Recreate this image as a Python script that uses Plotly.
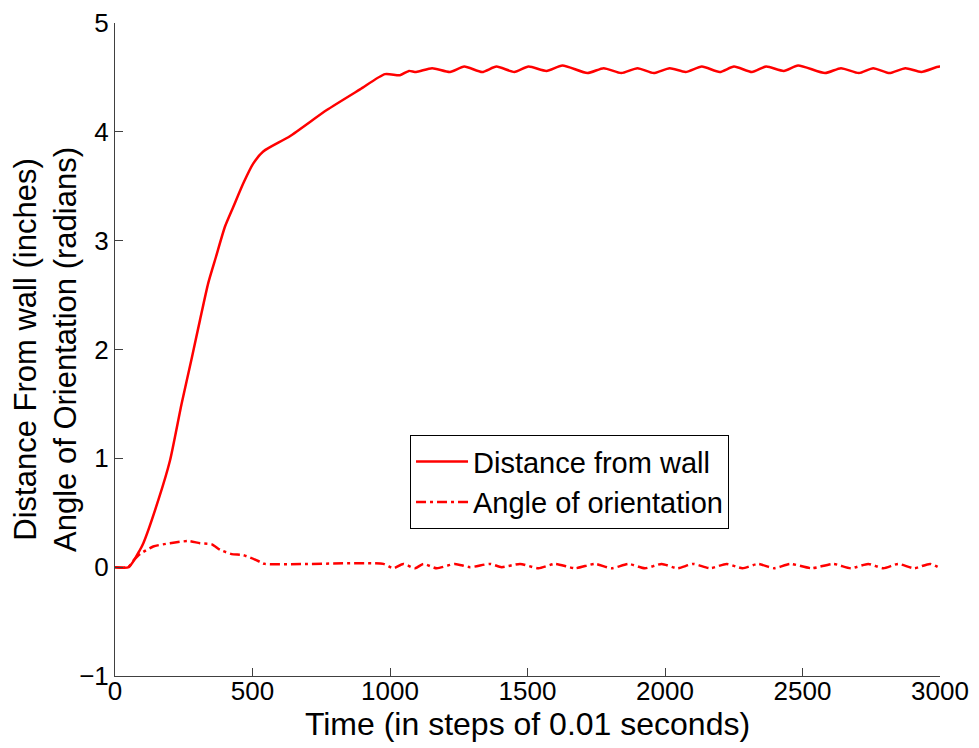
import plotly.graph_objects as go

# Distance from wall (inches)
dist_t = [0, 50, 91, 103, 158, 200, 242, 279, 309, 339, 367, 400, 430, 467, 503, 539,
          636, 770, 891, 982, 1036, 1069, 1095, 1153, 1218, 1270, 1335, 1387, 1452, 1504,
          1569, 1627, 1718, 1777, 1841, 1900, 1959, 2017, 2075, 2134, 2199, 2251, 2316,
          2368, 2432, 2484, 2582, 2640, 2705, 2757, 2816, 2874, 2932, 2997, 3000]
dist_v = [0, 0, 0.16, 0.22, 0.62, 0.98, 1.50, 1.92, 2.27, 2.61, 2.85, 3.13, 3.31, 3.53, 3.71, 3.82,
          3.96, 4.20, 4.39, 4.53, 4.52, 4.56, 4.55, 4.585, 4.55, 4.60, 4.55, 4.60, 4.55, 4.60,
          4.56, 4.61, 4.54, 4.585, 4.54, 4.585, 4.54, 4.585, 4.55, 4.60, 4.55, 4.60, 4.55,
          4.60, 4.56, 4.61, 4.54, 4.585, 4.54, 4.585, 4.54, 4.585, 4.55, 4.60, 4.59]

# Angle of orientation (radians)
ang_t = [0, 48, 67, 91, 139, 200, 267, 309, 352, 382, 424, 467, 527, 545, 976, 1012, 1048,
         1091, 1121, 1170, 1236, 1291, 1364, 1406, 1473, 1540, 1600, 1673, 1745, 1806, 1867,
         1927, 1988, 2045, 2103, 2164, 2224, 2282, 2339, 2397, 2455, 2533, 2612, 2676, 2739,
         2794, 2848, 2906, 2964, 3000]
ang_v = [0, 0, 0.06, 0.12, 0.19, 0.22, 0.24, 0.22, 0.21, 0.16, 0.12, 0.11, 0.05, 0.03, 0.03, -0.01, 0.03,
         -0.01, 0.03, -0.01, 0.03, 0.0, 0.03, 0.0, 0.03, -0.01, 0.03, -0.01, 0.03, -0.01, 0.03,
         -0.01, 0.03, -0.01, 0.03, -0.01, 0.03, -0.01, 0.03, -0.01, 0.03, -0.01, 0.03, -0.01, 0.03,
         -0.01, 0.03, -0.01, 0.03, -0.01]

x_ticks = [0, 500, 1000, 1500, 2000, 2500, 3000]
y_ticks = [-1, 0, 1, 2, 3, 4, 5]

FONT = "Liberation Sans, Arial, sans-serif"

fig = go.Figure()
fig.add_trace(go.Scatter(x=dist_t, y=dist_v, mode="lines", name="Distance from wall",
                         line=dict(color="#ff0000", width=2.5, shape="spline", smoothing=0.6)))
fig.add_trace(go.Scatter(x=ang_t, y=ang_v, mode="lines", name="Angle of orientation",
                         line=dict(color="#ff0000", width=2.5, dash="10px,4px,3px,4px",
                                   shape="spline", smoothing=0.6)))

axis_common = dict(showgrid=False, zeroline=False, showline=True, linecolor="#404040", linewidth=1,
                   ticks="inside", ticklen=8, tickcolor="#404040", mirror=False, automargin=False,
                   tickfont=dict(family=FONT, size=26, color="black"))

# page body adds an 8px offset, so the figure is sized to fit the 979x748 window
fig.update_layout(
    width=971, height=740,
    margin=dict(l=107, r=39, t=15, b=72),
    paper_bgcolor="white", plot_bgcolor="white",
    font=dict(family=FONT, size=26, color="black"),
    xaxis=dict(range=[0, 3000], tickvals=x_ticks, ticklabelstandoff=-8, **axis_common,
               title=dict(text="Time (in steps of 0.01 seconds)", standoff=0,
                          font=dict(family=FONT, size=32))),
    yaxis=dict(range=[-1, 5], tickvals=y_ticks, **axis_common,
               title=dict(text="Distance From wall (inches)<br>Angle of Orientation (radians)", standoff=0,
                          font=dict(family=FONT, size=31))),
    legend=dict(x=0.3576, y=0.369, xanchor="left", yanchor="top",
                bordercolor="black", borderwidth=1, bgcolor="white",
                font=dict(family=FONT, size=29), itemwidth=52, tracegroupgap=0),
    showlegend=True,
)

fig.write_html("out.html")
